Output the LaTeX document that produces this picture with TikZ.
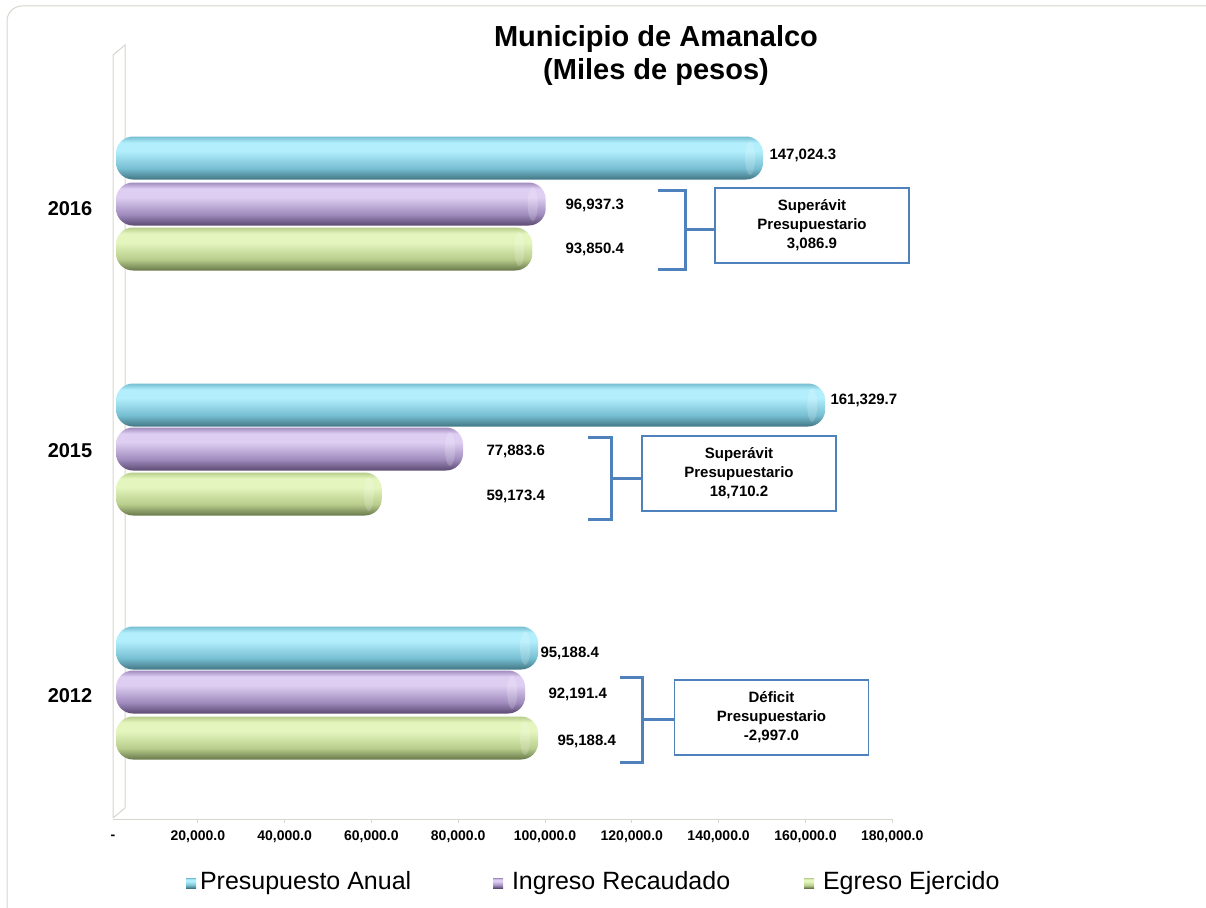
\documentclass[tikz,border=0pt]{standalone}
\usepackage{fontspec}
\setmainfont{Liberation Sans}
\usetikzlibrary{positioning}
\usetikzlibrary{calc}
\definecolor{azulD}{RGB}{66,118,132}
\definecolor{azulM}{RGB}{118,190,210}
\definecolor{azulL}{RGB}{178,238,252}
\definecolor{lilaD}{RGB}{92,74,114}
\definecolor{lilaM}{RGB}{160,140,190}
\definecolor{lilaL}{RGB}{222,206,242}
\definecolor{verdeD}{RGB}{104,120,74}
\definecolor{verdeM}{RGB}{184,205,140}
\definecolor{verdeL}{RGB}{228,246,190}
\definecolor{corchete}{RGB}{79,129,189}
\definecolor{muro}{RGB}{214,214,206}
\pgfdeclareverticalshading{azul}{100bp}{color(0bp)=(azulD); color(25bp)=(azulD); color(38bp)=(azulM); color(58bp)=(azulL); color(68bp)=(azulL); color(75bp)=(azulM); color(100bp)=(azulM)}
\pgfdeclareverticalshading{lila}{100bp}{color(0bp)=(lilaD); color(25bp)=(lilaD); color(38bp)=(lilaM); color(58bp)=(lilaL); color(68bp)=(lilaL); color(75bp)=(lilaM); color(100bp)=(lilaM)}
\pgfdeclareverticalshading{verde}{100bp}{color(0bp)=(verdeD); color(25bp)=(verdeD); color(38bp)=(verdeM); color(58bp)=(verdeL); color(68bp)=(verdeL); color(75bp)=(verdeM); color(100bp)=(verdeM)}
\tikzset{every picture/.style={line width=1pt}}

\begin{document}
\begin{tikzpicture}[x=1pt, y=-1pt,
  valor/.style={anchor=west, inner sep=0pt, font=\bfseries\fontsize{15}{18}\selectfont},
  anio/.style={font=\bfseries\fontsize{20}{24}\selectfont},
  eje/.style={font=\bfseries\fontsize{14}{16}\selectfont},
  saldo/.style={draw=corchete, line width=1.2pt, fill=white, minimum width=194pt, minimum height=75pt, align=center, font=\bfseries\fontsize{15}{19}\selectfont},
  llave/.style={draw=corchete, line width=3pt},
  marca/.style={minimum size=10pt, inner sep=0pt},
  leyenda/.style={inner sep=0pt, font=\fontsize{25}{28}\selectfont}]
\useasboundingbox (0,0) rectangle (1206,907);
\draw[muro, rounded corners=15pt] (7,6) rectangle (1240,940);
\node (titulo) at (656,56) [align=center, font=\bfseries\fontsize{29}{33}\selectfont] {Municipio de Amanalco\\(Miles de pesos)};
% muro y eje
\draw[muro] (113,818) -- (113,55) -- (125,45) -- (125,808) -- (113,818);
\draw[muro] (113,819) -- (893,819);
\foreach \i in {1,...,9}
  \draw[muro] (111+\i*86.8,819) -- ++(0,4);
\node (t0) at (113,837) [eje] {-};
\foreach \i/\t in {1/20,2/40,3/60,4/80,5/100,6/120,7/140,8/160,9/180}
  \node (t\i) at (111+\i*86.8,837) [eje] {\t,000.0};
% barras (miles)
\foreach \yc/\v/\sh in {158/147.0243/azul, 204/96.9373/lila, 249/93.8504/verde,
    405/161.3297/azul, 449/77.8836/lila, 494/59.1734/verde,
    648/95.1884/azul, 692/92.1914/lila, 738/95.1884/verde}
{
  \pgfmathsetmacro\xe{125+\v*4.34}
  \shade[shading=\sh, rounded corners=17pt] (116,\yc-21.5) rectangle (\xe,\yc+21.5);
  \fill[white, opacity=.18] (\xe-13,\yc) ellipse (5 and 17);
}
% anios
\node (a16) at (70,209) [anio] {2016};
\node (a15) at (70,451) [anio] {2015};
\node (a12) at (70,696) [anio] {2012};
% valores
\node (v1) at (769,155) [valor] {147,024.3};
\node (v2) at (565,205) [valor] {96,937.3};
\node (v3) at (565,249) [valor] {93,850.4};
\node (v4) at (830,400) [valor] {161,329.7};
\node (v5) at (486,451) [valor] {77,883.6};
\node (v6) at (486,496) [valor] {59,173.4};
\node (v7) at (540,653) [valor] {95,188.4};
\node (v8) at (548,694) [valor] {92,191.4};
\node (v9) at (557,741) [valor] {95,188.4};
% saldos
\node (s16) at (812,225.5) [saldo] {Superávit\\Presupuestario\\3,086.9};
\node (s15) at (739,473.5) [saldo] {Superávit\\Presupuestario\\18,710.2};
\node (s12) at (771.5,717.5) [saldo] {Déficit\\Presupuestario\\-2,997.0};
\coordinate (k16) at (685,229.5);
\coordinate (k15) at (611,478);
\coordinate (k12) at (642,719.5);
\draw[llave] (658,190) -| (685,269) -- (658,269);
\draw[llave] (k16) -- (k16 -| s16.west);
\draw[llave] (588,437) -| (611,519) -- (588,519);
\draw[llave] (k15) -- (k15 -| s15.west);
\draw[llave] (620,677) -| (642,762) -- (620,762);
\draw[llave] (k12) -- (k12 -| s12.west);
% leyenda
\node (m1) at (191,883) [marca, shading=azul] {};
\node (l1) [leyenda, right=3pt of m1] {Presupuesto Anual};
\node (m2) at (498,883) [marca, shading=lila] {};
\node (l2) [leyenda, right=8pt of m2] {Ingreso Recaudado};
\node (m3) at (809,883) [marca, shading=verde] {};
\node (l3) [leyenda, right=8pt of m3] {Egreso Ejercido};
\end{tikzpicture}
\end{document}
